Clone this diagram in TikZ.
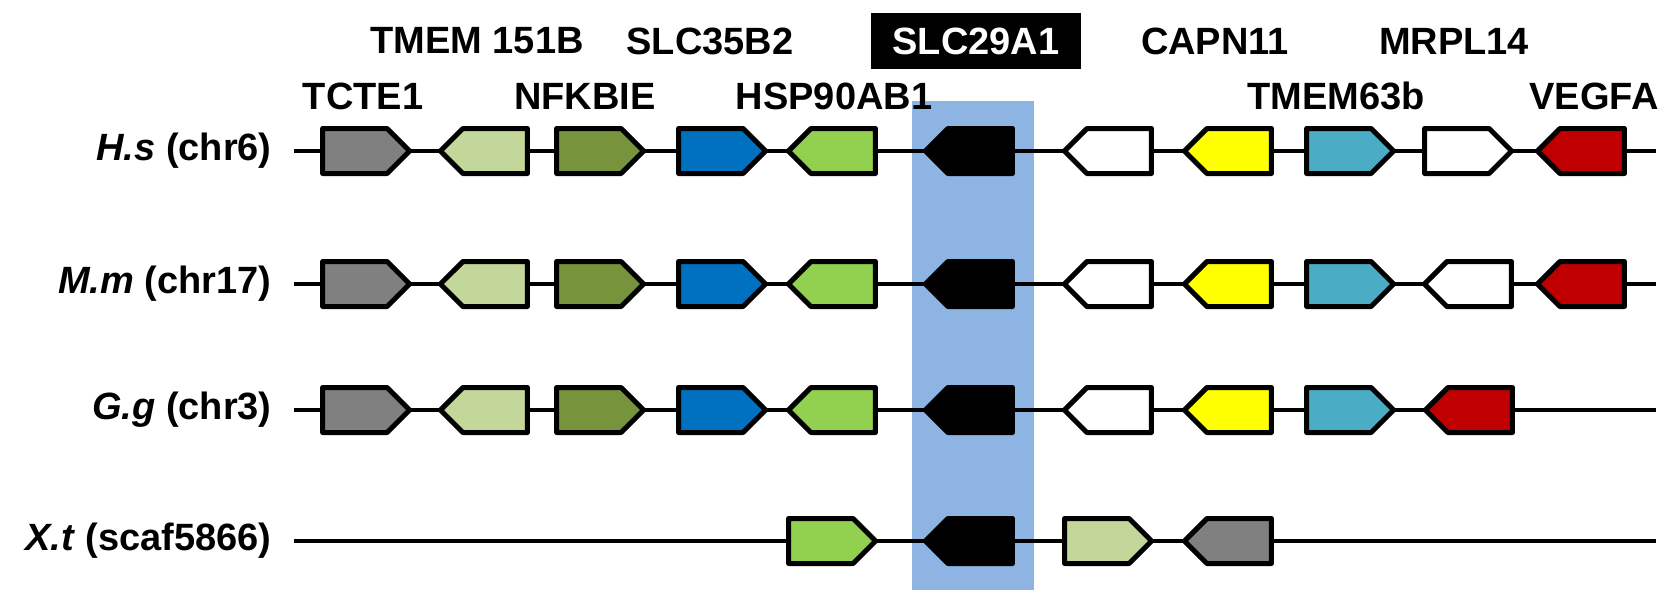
\documentclass[tikz,border=0pt]{standalone}
\usepackage{fontspec}
\setmainfont{Liberation Sans}
\usepackage{tikz}
\usetikzlibrary{shapes.symbols,positioning}
\usepackage{xcolor}
\definecolor{geneGray}{HTML}{808080}
\definecolor{genePale}{HTML}{C4D79B}
\definecolor{geneOlive}{HTML}{77933C}
\definecolor{geneBlue}{HTML}{0070C0}
\definecolor{geneGreen}{HTML}{92D050}
\definecolor{geneYellow}{HTML}{FFFF00}
\definecolor{geneTeal}{HTML}{4BACC6}
\definecolor{geneRed}{HTML}{C00000}
\definecolor{hilite}{HTML}{8EB4E3}

\begin{document}
\begin{tikzpicture}[
    x=0.5pt, y=-0.5pt,
    gene/.style={signal, signal pointer angle=90, draw=black, line width=2.5pt, line join=round, minimum height=22.5pt, minimum width=43.5pt, inner sep=0pt},
    fwd/.style={gene, signal to=east, signal from=nowhere, xshift=-5.6pt},
    rev/.style={gene, signal to=west, signal from=nowhere, xshift=5.6pt},
    chrom/.style={line width=1.8pt},
    label/.style={font=\bfseries\fontsize{19}{23}\selectfont, inner sep=0pt},
    species/.style={label, anchor=east}
]
\useasboundingbox (0,0) rectangle (1675,590);

% Highlight band behind SLC29A1
\fill[hilite] (912,101) rectangle (1034,590);

% Species labels and chromosome lines
\node[species] (hs) at (272,151) {\textit{H.s} (chr6)};
\node[species] (mm) at (272,284) {\textit{M.m} (chr17)};
\node[species] (gg) at (272,410) {\textit{G.g} (chr3)};
\node[species] (xt) at (272,541) {\textit{X.t} (scaf5866)};
\coordinate (hsL) at (294,151); \coordinate (hsR) at (1656,151);
\coordinate (mmL) at (294,284); \coordinate (mmR) at (1656,284);
\coordinate (ggL) at (294,410); \coordinate (ggR) at (1656,410);
\coordinate (xtL) at (294,541); \coordinate (xtR) at (1656,541);
\draw[chrom] (hsL) -- (hsR);
\draw[chrom] (mmL) -- (mmR);
\draw[chrom] (ggL) -- (ggR);
\draw[chrom] (xtL) -- (xtR);

% Row 1 - H.s
\node[fwd, fill=geneGray] (hs1) at (366,151) {};
\node[rev, fill=genePale] (hs2) at (484,151) {};
\node[fwd, fill=geneOlive] (hs3) at (600,151) {};
\node[fwd, fill=geneBlue] (hs4) at (722,151) {};
\node[rev, fill=geneGreen] (hs5) at (832,151) {};
\node[rev, fill=black] (hs6) at (969,151) {};
\node[rev, fill=white] (hs7) at (1108,151) {};
\node[rev, fill=geneYellow] (hs8) at (1228,151) {};
\node[fwd, fill=geneTeal] (hs9) at (1350,151) {};
\node[fwd, fill=white] (hs10) at (1468,151) {};
\node[rev, fill=geneRed] (hs11) at (1581,151) {};

% Row 2 - M.m
\node[fwd, fill=geneGray] (mm1) at (366,284) {};
\node[rev, fill=genePale] (mm2) at (484,284) {};
\node[fwd, fill=geneOlive] (mm3) at (600,284) {};
\node[fwd, fill=geneBlue] (mm4) at (722,284) {};
\node[rev, fill=geneGreen] (mm5) at (832,284) {};
\node[rev, fill=black] (mm6) at (969,284) {};
\node[rev, fill=white] (mm7) at (1108,284) {};
\node[rev, fill=geneYellow] (mm8) at (1228,284) {};
\node[fwd, fill=geneTeal] (mm9) at (1350,284) {};
\node[rev, fill=white] (mm10) at (1468,284) {};
\node[rev, fill=geneRed] (mm11) at (1581,284) {};

% Row 3 - G.g
\node[fwd, fill=geneGray] (gg1) at (366,410) {};
\node[rev, fill=genePale] (gg2) at (484,410) {};
\node[fwd, fill=geneOlive] (gg3) at (600,410) {};
\node[fwd, fill=geneBlue] (gg4) at (722,410) {};
\node[rev, fill=geneGreen] (gg5) at (832,410) {};
\node[rev, fill=black] (gg6) at (969,410) {};
\node[rev, fill=white] (gg7) at (1108,410) {};
\node[rev, fill=geneYellow] (gg8) at (1228,410) {};
\node[fwd, fill=geneTeal] (gg9) at (1350,410) {};
\node[rev, fill=geneRed] (gg10) at (1469,410) {};

% Row 4 - X.t
\node[fwd, fill=geneGreen] (xt1) at (832,541) {};
\node[rev, fill=black] (xt2) at (969,541) {};
\node[fwd, fill=genePale] (xt3) at (1108,541) {};
\node[rev, fill=geneGray] (xt4) at (1228,541) {};

% Gene names - top line
\node[label] (tmem151b) at (477,41) {TMEM 151B};
\node[label] (slc35b2) at (710,41) {SLC35B2};
\node[label, fill=black, text=white, minimum width=105pt, minimum height=28pt] (slc29a1) at (976,41) {SLC29A1};
\node[label] (capn11) at (1215,41) {CAPN11};
\node[label] (mrpl14) at (1454,41) {MRPL14};

% Gene names - lower line
\node[label] (tcte1) at (363,96) {TCTE1};
\node[label] (nfkbie) at (585,96) {NFKBIE};
\node[label] (hsp90ab1) at (834,96) {HSP90AB1};
\node[label] (tmem63b) at (1336,96) {TMEM63b};
\node[label] (vegfa) at (1594,96) {VEGFA};

\end{tikzpicture}
\end{document}
